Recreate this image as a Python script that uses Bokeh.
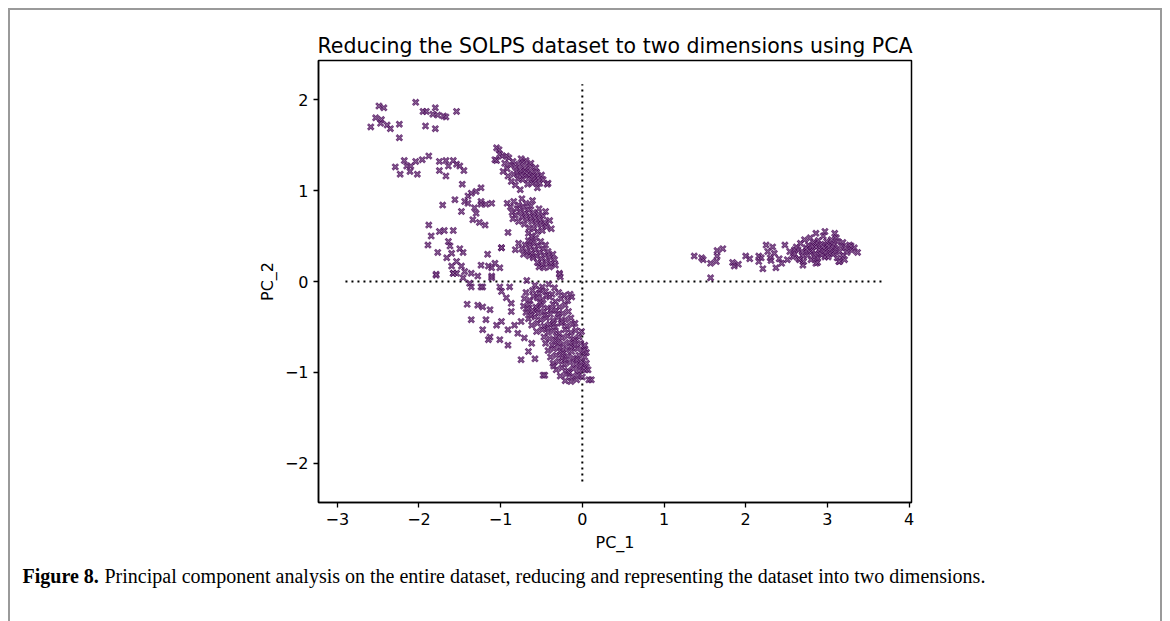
from bokeh.plotting import figure
from bokeh.layouts import column
from bokeh.models import Range1d, FixedTicker, ColumnDataSource
from bokeh.core.properties import value
from bokeh.embed import file_html
from bokeh.resources import INLINE

# ---------------- texts ----------------
title_text = "Reducing the SOLPS dataset to two dimensions using PCA"
x_label = "PC_1"
y_label = "PC_2"
x_ticks = [-3, -2, -1, 0, 1, 2, 3, 4]
y_ticks = [-2, -1, 0, 1, 2]
caption_bold = "Figure 8."
caption_text = ("Principal component analysis on the entire dataset, reducing and "
                "representing the dataset into two dimensions.")

# ---------------- data ----------------
# sparse group, top left
topleft_pc1 = [-2.49, -2.43, -2.59, -2.53, -2.46, -2.47, -2.39, -2.35, -2.24, -2.24,
               -2.04, -1.95, -1.91, -1.80, -1.83, -1.77, -1.70, -1.67, -1.54, -1.92, -1.80]
topleft_pc2 = [1.93, 1.91, 1.70, 1.80, 1.78, 1.74, 1.72, 1.68, 1.73, 1.58,
               1.97, 1.87, 1.87, 1.91, 1.84, 1.83, 1.82, 1.81, 1.87, 1.71, 1.68]

# band around PC_2 ~ 1.25
band_pc1 = [-2.29, -2.23, -2.18, -2.15, -2.10, -2.11, -2.04, -2.02, -1.96, -1.88,
            -1.75, -1.75, -1.67, -1.64, -1.67, -1.58, -1.54, -1.50, -1.45]
band_pc2 = [1.26, 1.18, 1.33, 1.27, 1.27, 1.21, 1.32, 1.18, 1.34, 1.38,
            1.32, 1.22, 1.33, 1.27, 1.16, 1.33, 1.29, 1.27, 1.22]

# scattered middle-left points
midleft_pc1 = [-1.47, -1.56, -1.71, -1.48, -1.44, -1.40, -1.36, -1.30, -1.24, -1.40,
               -1.32, -1.30, -1.24, -1.18, -1.11, -1.34, -1.26, -1.19, -1.88, -1.85,
               -1.89, -1.75, -1.69, -1.58, -1.64, -1.62, -1.77, -1.66, -1.60, -1.50,
               -1.46, -1.54, -1.60, -1.48, -1.54, -1.79, -1.44, -1.36, -1.24, -1.16,
               -1.07, -1.11, -1.01, -1.28, -1.46, -1.38, -1.24, -1.11, -1.24, -0.99,
               -1.58, -1.15]
midleft_pc2 = [1.07, 0.90, 0.84, 0.77, 0.88, 0.94, 0.97, 0.99, 1.03, 0.86,
               0.81, 0.75, 0.85, 0.85, 0.86, 0.68, 0.65, 0.62, 0.62, 0.50,
               0.40, 0.55, 0.56, 0.56, 0.44, 0.39, 0.32, 0.26, 0.31, 0.36,
               0.32, 0.22, 0.17, 0.17, 0.09, 0.07, 0.11, 0.09, 0.18, 0.30,
               0.20, 0.15, 0.15, 0.06, 0.04, -0.02, -0.06, 0.06, 0.88, 0.37,
               0.09, 0.17]

# dense cluster near (-0.75, 1.2)
clusterA_pc1 = [-1.05, -1.02, -0.98, -1.05, -0.95, -0.90, -0.88, -0.92, -0.85, -0.82,
                -0.80, -0.84, -0.78, -0.76, -0.74, -0.72, -0.70, -0.68, -0.66, -0.73,
                -0.79, -0.64, -0.62, -0.60, -0.58, -0.56, -0.54, -0.52, -0.61, -0.67,
                -0.87, -0.91, -0.97, -0.75, -0.69, -0.63, -0.57, -0.71, -0.77, -0.65,
                -0.59, -0.82, -0.76, -0.55, -0.42, -0.48, -0.50, -1.07, -1.01, -0.93]
clusterA_pc2 = [1.47, 1.45, 1.38, 1.33, 1.30, 1.36, 1.28, 1.24, 1.32, 1.26,
                1.20, 1.18, 1.29, 1.23, 1.17, 1.31, 1.25, 1.19, 1.13, 1.12,
                1.13, 1.27, 1.21, 1.16, 1.10, 1.20, 1.14, 1.08, 1.08, 1.07,
                1.10, 1.16, 1.21, 1.35, 1.33, 1.30, 1.25, 1.21, 1.16, 1.17,
                1.13, 1.06, 1.01, 1.03, 1.08, 1.12, 1.17, 1.34, 1.40, 1.38]

# dense cluster near (-0.65, 0.7)
clusterB_pc1 = [-0.92, -0.88, -0.84, -0.80, -0.86, -0.82, -0.78, -0.76, -0.74, -0.72,
                -0.70, -0.68, -0.66, -0.64, -0.62, -0.60, -0.58, -0.56, -0.54, -0.52,
                -0.50, -0.48, -0.46, -0.44, -0.40, -0.38, -0.71, -0.65, -0.59, -0.78,
                -0.61, -0.69, -0.74, -0.53, -0.45, -0.66, -0.55, -0.85, -0.49, -0.63,
                -0.91, -0.63]
clusterB_pc2 = [0.86, 0.82, 0.88, 0.80, 0.76, 0.73, 0.84, 0.77, 0.71, 0.82,
                0.75, 0.69, 0.79, 0.72, 0.66, 0.76, 0.70, 0.64, 0.74, 0.68,
                0.62, 0.72, 0.65, 0.60, 0.67, 0.58, 0.63, 0.59, 0.58, 0.66,
                0.89, 0.86, 0.91, 0.80, 0.77, 0.53, 0.55, 0.69, 0.56, 0.83,
                0.54, 0.44]

# dense cluster near (-0.5, 0.3)
clusterC_pc1 = [-0.78, -0.74, -0.70, -0.68, -0.66, -0.64, -0.62, -0.60, -0.58, -0.56,
                -0.54, -0.52, -0.50, -0.48, -0.46, -0.44, -0.42, -0.40, -0.38, -0.36,
                -0.34, -0.60, -0.55, -0.49, -0.65, -0.72, -0.57, -0.51, -0.45, -0.40,
                -0.82, -0.62, -0.47, -0.33, -0.53, -0.28, -0.99, -0.43]
clusterC_pc2 = [0.42, 0.36, 0.40, 0.33, 0.45, 0.38, 0.31, 0.42, 0.35, 0.28,
                0.39, 0.32, 0.25, 0.36, 0.29, 0.22, 0.33, 0.27, 0.20, 0.30,
                0.24, 0.26, 0.21, 0.19, 0.28, 0.30, 0.48, 0.44, 0.40, 0.16,
                0.35, 0.50, 0.15, 0.18, 0.16, 0.08, 0.37, 1.07]

# scattered tail left of the big lower cluster
tail_pc1 = [-1.41, -1.36, -1.28, -1.22, -1.13, -1.18, -1.22, -1.13, -1.15, -1.05,
            -0.99, -1.01, -0.91, -0.91, -0.87, -0.83, -0.79, -0.75, -0.71, -0.75,
            -0.66, -0.62, -0.58, -0.46, -0.99, -0.93, -0.87, -1.01, -0.89, -1.11,
            -1.22, -1.36, -0.52, -0.13, -0.09, -0.01, 0.03, 0.11, 0.07, -0.28,
            -1.79, -1.58, -0.68, -0.27, 0.08, 0.04, -0.48, -0.15]
tail_pc2 = [-0.25, -0.42, -0.26, -0.28, -0.31, -0.42, -0.53, -0.61, -0.64, -0.48,
            -0.44, -0.64, -0.70, -0.53, -0.33, -0.48, -0.57, -0.44, -0.62, -0.86,
            -0.77, -0.68, -0.85, -1.03, -0.11, -0.18, -0.24, -0.06, -0.06, 0.04,
            -0.06, -0.06, -0.09, -0.17, -0.46, -0.55, -0.75, -1.08, -0.97, 0.09,
            0.08, 0.09, 0.01, 0.05, -1.08, -0.97, -1.03, -0.14]

# big dense cluster, upper part
clusterD1_pc1 = [-0.58, -0.49, -0.41, -0.34,
                 -0.69, -0.61, -0.53, -0.45, -0.37, -0.29, -0.22,
                 -0.71, -0.64, -0.55, -0.48, -0.40, -0.33, -0.26, -0.18,
                 -0.72, -0.65, -0.57, -0.50, -0.43, -0.36, -0.28, -0.21,
                 -0.69, -0.61, -0.54, -0.47, -0.39, -0.32, -0.24, -0.17,
                 -0.66, -0.58, -0.51, -0.44, -0.36, -0.29, -0.21, -0.14,
                 -0.62, -0.55, -0.47, -0.40, -0.33, -0.26, -0.19, -0.12,
                 -0.56, -0.49, -0.42, -0.35, -0.28, -0.21, -0.14, -0.08,
                 -0.60, -0.52, -0.44, -0.38, -0.30, -0.46, -0.55, -0.25,
                 -0.35, -0.42, -0.67, -0.63]
clusterD1_pc2 = [-0.04, -0.06, -0.03, -0.07,
                 -0.12, -0.10, -0.13, -0.11, -0.14, -0.12, -0.15,
                 -0.19, -0.21, -0.18, -0.20, -0.17, -0.22, -0.19, -0.21,
                 -0.27, -0.25, -0.28, -0.26, -0.29, -0.25, -0.28, -0.26,
                 -0.34, -0.32, -0.35, -0.33, -0.36, -0.32, -0.35, -0.33,
                 -0.41, -0.39, -0.42, -0.40, -0.43, -0.39, -0.42, -0.40,
                 -0.48, -0.46, -0.49, -0.47, -0.50, -0.46, -0.49, -0.47,
                 -0.55, -0.53, -0.56, -0.54, -0.57, -0.53, -0.56, -0.54,
                 -0.16, -0.23, -0.15, -0.31, -0.36, -0.37, -0.30, -0.44,
                 -0.46, -0.51, -0.30, -0.37]

# big dense cluster, lower part
clusterD2_pc1 = [-0.47, -0.40, -0.32, -0.25, -0.18, -0.11, -0.04,
                 -0.45, -0.37, -0.30, -0.23, -0.16, -0.09, -0.02, 0.03,
                 -0.42, -0.35, -0.27, -0.20, -0.13, -0.06, 0.01, 0.05,
                 -0.39, -0.32, -0.25, -0.18, -0.11, -0.04, 0.03,
                 -0.36, -0.29, -0.22, -0.15, -0.08, -0.01, 0.05,
                 -0.32, -0.25, -0.18, -0.11, -0.04, 0.02,
                 -0.27, -0.20, -0.13, -0.06, 0.00,
                 -0.21, -0.14, -0.07,
                 -0.28, -0.14, -0.21, -0.07, -0.35, -0.16, -0.33, -0.09, -0.24, -0.02]
clusterD2_pc2 = [-0.61, -0.63, -0.60, -0.62, -0.60, -0.63, -0.61,
                 -0.68, -0.70, -0.67, -0.69, -0.67, -0.70, -0.68, -0.70,
                 -0.76, -0.74, -0.77, -0.75, -0.77, -0.74, -0.76, -0.78,
                 -0.83, -0.81, -0.84, -0.82, -0.84, -0.81, -0.83,
                 -0.90, -0.88, -0.91, -0.89, -0.91, -0.88, -0.90,
                 -0.97, -0.95, -0.98, -0.96, -0.98, -0.95,
                 -1.04, -1.02, -1.05, -1.03, -1.05,
                 -1.09, -1.10, -1.08,
                 -0.72, -0.72, -0.86, -0.86, -0.93, -1.00, -0.65, -0.65, -0.79, -0.93]

# right-hand group, sparse tail
righttail_pc1 = [1.37, 1.46, 1.48, 1.57, 1.64, 1.65, 1.65, 1.72, 1.57, 1.84,
                 1.86, 1.91, 2.00, 2.05, 2.16, 2.16, 2.19, 2.21, 2.25, 2.27,
                 2.33, 2.35, 2.30, 2.31, 2.37, 2.41, 2.44, 2.48, 2.51, 2.54]
righttail_pc2 = [0.28, 0.26, 0.24, 0.20, 0.22, 0.28, 0.34, 0.36, 0.04, 0.21,
                 0.17, 0.19, 0.28, 0.25, 0.28, 0.22, 0.26, 0.14, 0.40, 0.33,
                 0.38, 0.31, 0.26, 0.23, 0.15, 0.25, 0.20, 0.40, 0.24, 0.33]

# right-hand dense cluster near (2.9, 0.35)
clusterE_pc1 = [2.60, 2.62, 2.65, 2.67, 2.69, 2.71, 2.72, 2.74, 2.76, 2.77,
                2.79, 2.80, 2.82, 2.83, 2.85, 2.86, 2.88, 2.89, 2.90, 2.92,
                2.93, 2.95, 2.96, 2.98, 2.99, 3.01, 3.02, 3.04, 3.05, 3.07,
                3.08, 3.10, 3.12, 3.13, 3.15, 3.17, 3.19, 3.22, 3.24, 3.27,
                2.70, 2.78, 2.84, 2.87, 2.91, 2.94, 2.97, 3.00, 3.03, 3.06,
                2.81, 2.75, 2.95, 3.09, 2.88, 3.11, 2.64, 2.58, 3.30, 3.14,
                2.97, 3.09, 2.86, 3.19, 3.29, 3.37, 3.33, 3.21, 3.15, 2.86,
                2.70, 2.66, 2.60]
clusterE_pc2 = [0.30, 0.38, 0.25, 0.42, 0.33, 0.22, 0.46, 0.37, 0.29, 0.40,
                0.48, 0.24, 0.34, 0.43, 0.30, 0.38, 0.26, 0.45, 0.35, 0.41,
                0.29, 0.50, 0.37, 0.32, 0.44, 0.27, 0.39, 0.35, 0.46, 0.30,
                0.41, 0.36, 0.26, 0.44, 0.33, 0.39, 0.29, 0.37, 0.32, 0.40,
                0.28, 0.33, 0.27, 0.42, 0.31, 0.38, 0.27, 0.40, 0.31, 0.38,
                0.39, 0.35, 0.33, 0.33, 0.21, 0.48, 0.35, 0.27, 0.34, 0.22,
                0.55, 0.53, 0.53, 0.43, 0.39, 0.32, 0.37, 0.24, 0.22, 0.20,
                0.18, 0.24, 0.35]

# dotted reference lines
hline_pc1 = [-2.90, 3.68]
hline_pc2 = [0.0, 0.0]
vline_pc1 = [0.0, 0.0]
vline_pc2 = [-2.20, 2.17]

groups = [(topleft_pc1, topleft_pc2), (band_pc1, band_pc2), (midleft_pc1, midleft_pc2),
          (clusterA_pc1, clusterA_pc2), (clusterB_pc1, clusterB_pc2),
          (clusterC_pc1, clusterC_pc2), (tail_pc1, tail_pc2),
          (clusterD1_pc1, clusterD1_pc2), (clusterD2_pc1, clusterD2_pc2),
          (righttail_pc1, righttail_pc2), (clusterE_pc1, clusterE_pc2)]
all_x, all_y = [], []
for gx, gy in groups:
    all_x += gx
    all_y += gy
src = ColumnDataSource(dict(x=all_x, y=all_y))

# ---------------- main figure ----------------
FONT = "DejaVu Sans"
W = 1150
p = figure(width=W, height=550,
           x_range=Range1d(-3.23, 4.03), y_range=Range1d(-2.43, 2.43),
           output_backend="svg", toolbar_location=None,
           min_border_left=308, min_border_right=249,
           min_border_top=50, min_border_bottom=58)
p.background_fill_color = "white"
p.border_fill_color = "white"
p.xgrid.visible = False
p.ygrid.visible = False
p.outline_line_color = "black"
p.outline_line_width = 1.5
p.outline_line_alpha = 1.0

p.title.text = title_text
p.title.align = "center"
p.title.text_font = FONT
p.title.text_font_size = "20.5px"
p.title.text_font_style = "normal"
p.title.text_color = "black"
p.title.standoff = 6

for ax, ticks, lab in ((p.xaxis[0], x_ticks, x_label), (p.yaxis[0], y_ticks, y_label)):
    ax.ticker = FixedTicker(ticks=ticks)
    ax.major_label_overrides = {t: str(t).replace("-", "\u2212") for t in ticks}
    ax.axis_label = lab
    ax.axis_label_text_font = FONT
    ax.axis_label_text_font_style = "normal"
    ax.axis_label_text_font_size = "16px"
    ax.axis_label_text_color = "black"
    ax.major_label_text_font = FONT
    ax.major_label_text_font_size = "16px"
    ax.major_label_text_color = "black"
    ax.minor_tick_line_color = None
    ax.major_tick_in = 0
    ax.major_tick_out = 5
    ax.major_tick_line_width = 1.3
    ax.major_tick_line_color = "black"
    ax.axis_line_width = 1.5
    ax.axis_line_color = "black"
    ax.major_label_standoff = 5
    ax.axis_label_standoff = 5

p.line(hline_pc1, hline_pc2, line_color="black", line_width=2, line_dash="2 4")
p.line(vline_pc1, vline_pc2, line_color="black", line_width=2, line_dash="2 4")

p.scatter("x", "y", source=src, marker="x", size=8,
          line_color="#440154", line_alpha=0.8, line_width=2.6)
p.scatter("x", "y", source=src, marker="x", size=8,
          line_color="white", line_alpha=0.3, line_width=0.7)

# ---------------- caption strip ----------------
CAP_H = 61
cap = figure(width=W, height=CAP_H, x_range=Range1d(0, W), y_range=Range1d(0, CAP_H),
             output_backend="svg", toolbar_location=None,
             min_border_left=0, min_border_right=0, min_border_top=0, min_border_bottom=0)
cap.frame_align = False
cap.axis.visible = False
cap.grid.visible = False
cap.outline_line_color = None
cap.border_fill_color = "white"
cap.text(x=[12], y=[CAP_H - 15], text=[caption_bold], text_font=value("Liberation Serif"),
         text_font_style="bold", text_font_size="20px", text_baseline="middle",
         text_color="black")
cap.text(x=[94], y=[CAP_H - 15], text=[caption_text], text_font=value("Liberation Serif"),
         text_font_size="20px", text_baseline="middle", text_color="black")

page = column(p, cap, spacing=0,
              styles={"margin-left": "8px", "margin-top": "8px",
                      "border-left": "2px solid #9a9a9a",
                      "border-top": "2px solid #9a9a9a",
                      "border-right": "2px solid #9a9a9a"})

open("out.html", "w").write(file_html(page, INLINE))
